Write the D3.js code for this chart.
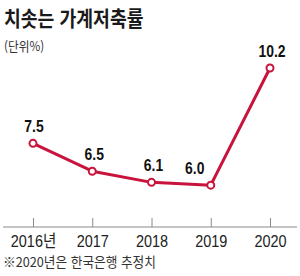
<!DOCTYPE html>
<html lang="ko">
<head>
  <meta charset="UTF-8">
  <title>치솟는 가계저축률</title>
  <style>
    body { margin: 0; background: #fff; }
    #chart { display: block; }
    text { font-family: "Liberation Sans", "Noto Sans CJK KR", sans-serif; }
    .kr { font-family: "Noto Sans CJK KR", sans-serif; }
  </style>
</head>
<body>
  <svg id="chart"></svg>

  <script src="https://d3js.org/d3.v7.min.js"></script>
  <script>
    // chart data
    const years = ["2016", "2017", "2018", "2019", "2020"];
    const tickLabels = ["2016년", "2017", "2018", "2019", "2020"];
    const savingRate = [7.5, 6.5, 6.1, 6.0, 10.2];
    const valueLabels = ["7.5", "6.5", "6.1", "6.0", "10.2"];

    const width = 300;
    const height = 276;
    const red = "#c8143c";

    const svg = d3.select("#chart")
      .attr("width", width)
      .attr("height", height);

    // x: point scale on the years, y: linear on the rate
    const x = d3.scalePoint()
      .domain(years)
      .range([33, 270]);

    const y = d3.scaleLinear()
      .domain([4.5, 10.2])
      .range([227, 68]);

    // text squeezed horizontally (the original uses a condensed face)
    function squeezed(g, tx, ty, sx, str) {
      return g.append("g")
        .attr("transform", `translate(${tx},${ty}) scale(${sx},1)`)
        .append("text")
        .text(str);
    }

    // title + unit
    squeezed(svg, 4, 26, 0.87, "치솟는 가계저축률")
      .attr("class", "kr")
      .attr("font-size", 21)
      .attr("font-weight", 700)
      .attr("fill", "#1a1a1a");

    squeezed(svg, 4, 51, 0.9, "(단위%)")
      .attr("class", "kr")
      .attr("font-size", 13)
      .attr("fill", "#333");

    // x axis, ticks pointing up
    const xAxis = d3.axisBottom(x)
      .tickSize(-9)
      .tickPadding(8)
      .tickFormat((d, i) => tickLabels[i]);

    const axisG = svg.append("g")
      .attr("transform", `translate(0,${y(4.5)})`)
      .call(xAxis);

    axisG.select(".domain").remove();
    axisG.selectAll(".tick line").attr("stroke", "#8a8a8a").attr("stroke-width", 1);
    axisG.selectAll(".tick text")
      .attr("font-size", 17)
      .attr("fill", "#222")
      .attr("transform", "scale(0.85,1)");

    axisG.append("line")
      .attr("x1", 3)
      .attr("x2", 297)
      .attr("stroke", "#8a8a8a")
      .attr("stroke-width", 1);

    // line + markers
    const line = d3.line()
      .x((d, i) => x(years[i]))
      .y(d => y(d));

    svg.append("path")
      .datum(savingRate)
      .attr("fill", "none")
      .attr("stroke", red)
      .attr("stroke-width", 3)
      .attr("stroke-linejoin", "round")
      .attr("d", line);

    svg.selectAll("circle.pt")
      .data(savingRate)
      .join("circle")
      .attr("class", "pt")
      .attr("cx", (d, i) => x(years[i]))
      .attr("cy", d => y(d))
      .attr("r", 3.5)
      .attr("fill", "#fff")
      .attr("stroke", red)
      .attr("stroke-width", 2);

    // value labels (2019 pushed left, off the steep segment)
    savingRate.forEach((v, i) => {
      const shift = i === 3 ? -16 : (i === 0 ? 1 : 2);
      squeezed(svg, x(years[i]) + shift, y(v) - 11, 0.82, valueLabels[i])
        .attr("text-anchor", "middle")
        .attr("font-size", 17)
        .attr("font-weight", 700)
        .attr("fill", "#111");
    });

    // footnote
    squeezed(svg, 3, 266.5, 0.94, "※2020년은 한국은행 추정치")
      .attr("class", "kr")
      .attr("font-size", 13.5)
      .attr("fill", "#333");
  </script>
</body>
</html>
